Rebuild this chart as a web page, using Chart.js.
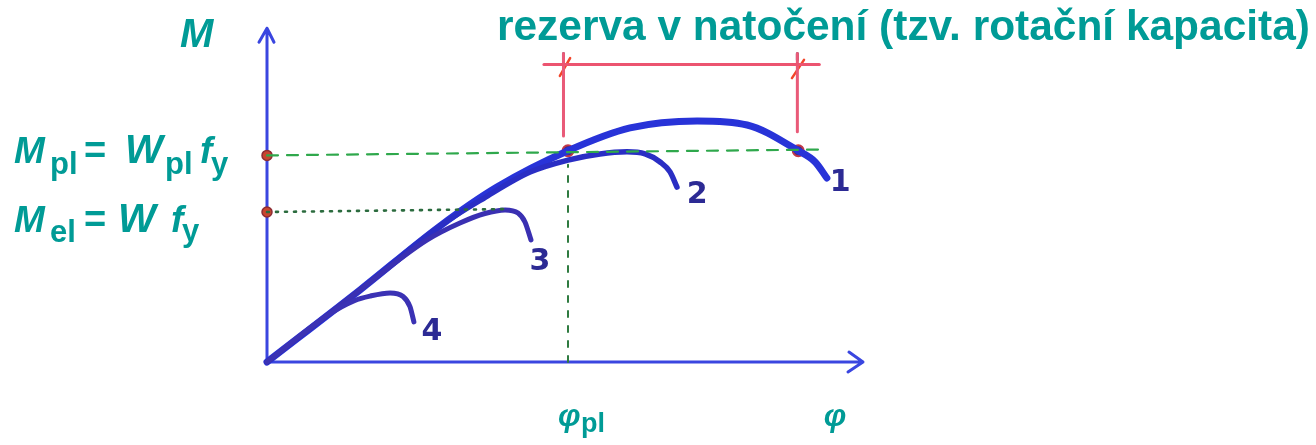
<!DOCTYPE html>
<html>
<head>
<meta charset="utf-8">
<title>M–φ</title>
<script src="https://cdn.jsdelivr.net/npm/chart.js@4.4.1/dist/chart.umd.min.js"></script>
<style>
  html, body { margin: 0; padding: 0; background: #ffffff; }
  #wrap { width: 1316px; height: 445px; position: relative; }
</style>
</head>
<body>
<div id="wrap"><canvas id="chart" width="1316" height="445"></canvas></div>
<script>
// Reference levels (dimensionless: M / Mpl, φ / φpl)
const M_PL = 1.0;
const M_EL = 0.71;
const PHI_PL = 1.0;

// Moment–rotation curves of cross-section classes 1–4
const curve1Phi = [0, 0.309, 0.575, 0.764, 1.0, 1.206, 1.429, 1.595, 1.765, 1.821, 1.860];
const curve1M   = [0, 0.341, 0.644, 0.828, 1.0, 1.108, 1.141, 1.122, 1.0, 0.947, 0.871];

const curve2Phi = [0, 0.309, 0.575, 0.72, 0.874, 1.0, 1.106, 1.196, 1.256, 1.306, 1.339, 1.362];
const curve2M   = [0, 0.341, 0.644, 0.775, 0.899, 0.956, 0.985, 0.995, 0.985, 0.947, 0.90, 0.828];

const curve3Phi = [0, 0.309, 0.532, 0.641, 0.724, 0.791, 0.834, 0.857, 0.877];
const curve3M   = [0, 0.341, 0.578, 0.658, 0.703, 0.72, 0.705, 0.663, 0.578];

const curve4Phi = [0, 0.2, 0.29, 0.342, 0.409, 0.452, 0.475, 0.488];
const curve4M   = [0, 0.22, 0.29, 0.312, 0.327, 0.31, 0.262, 0.19];

// Rotation reserve (rotation capacity) of class 1
const reservePhi = [0.985, 1.762];

// Curve numbers
const curveLabels = ['1', '2', '3', '4'];
const curveLabelPhi = [1.904, 1.429, 0.907, 0.548];
const curveLabelM   = [0.847, 0.79, 0.473, 0.142];

const pts = (xs, ys) => xs.map((x, i) => ({ x, y: ys[i] }));

const TEAL = '#009b96';

function curve(xs, ys, color, width) {
  return {
    data: pts(xs, ys), showLine: true, borderColor: color, borderWidth: width,
    pointRadius: 0, cubicInterpolationMode: 'monotone', borderCapStyle: 'round',
    borderJoinStyle: 'round', fill: false, clip: false
  };
}
function segment(a, b, color, width, dash) {
  return {
    data: [a, b], showLine: true, borderColor: color, borderWidth: width,
    borderDash: dash || [], pointRadius: 0, tension: 0, borderCapStyle: 'round',
    fill: false, clip: false
  };
}

const datasets = [
  // helper lines
  segment({ x: 0, y: M_PL - 0.022 }, { x: 1.856, y: M_PL + 0.006 }, '#2fa84c', 2.2, [11, 9]),
  segment({ x: 0, y: M_EL }, { x: 0.80, y: M_EL + 0.014 }, '#2b6b3e', 2.6, [2, 7]),
  segment({ x: PHI_PL, y: 0 }, { x: PHI_PL, y: 0.934 }, '#2f7b40', 2, [6, 9]),
  // rotation capacity bracket
  segment({ x: 0.92, y: 1.408 }, { x: 1.835, y: 1.408 }, '#ec5470', 3),
  segment({ x: reservePhi[0], y: 1.46 }, { x: reservePhi[0], y: 1.07 }, '#e95a78', 3),
  segment({ x: reservePhi[1], y: 1.46 }, { x: reservePhi[1], y: 1.09 }, '#e95a78', 3),
  segment({ x: reservePhi[0], y: 1.46 }, { x: reservePhi[0], y: 1.43 }, '#6a4a6a', 3),
  segment({ x: reservePhi[1], y: 1.46 }, { x: reservePhi[1], y: 1.43 }, '#6a4a6a', 3),
  segment({ x: 0.973, y: 1.354 }, { x: 1.007, y: 1.439 }, '#f2452a', 2.5),
  segment({ x: 1.744, y: 1.344 }, { x: 1.784, y: 1.43 }, '#f2452a', 2.5),
  // curves
  curve(curve4Phi, curve4M, '#3b32b4', 5),
  curve(curve3Phi, curve3M, '#3a30b2', 5),
  curve(curve2Phi, curve2M, '#2a2ec4', 5.5),
  curve(curve1Phi, curve1M, '#2833d8', 7),
  // marked points
  {
    data: [{ x: 0, y: M_PL - 0.022 }, { x: 0, y: M_EL }], showLine: false, clip: false,
    pointRadius: 5, pointBackgroundColor: '#c8452e', pointBorderColor: '#8c2c34', pointBorderWidth: 1.5
  },
  {
    data: [{ x: PHI_PL, y: M_PL }, { x: reservePhi[1] + 0.003, y: M_PL }], showLine: false, clip: false,
    pointRadius: 5.5, pointBackgroundColor: '#4a2a78', pointBorderColor: '#c23848', pointBorderWidth: 2
  }
];

// Axes with arrowheads, drawn on the chart's own scales
const axesPlugin = {
  id: 'axes',
  beforeDatasetsDraw(chart) {
    const { ctx, scales: { x, y } } = chart;
    const x0 = x.getPixelForValue(0), y0 = y.getPixelForValue(0);
    const xEnd = x.getPixelForValue(1.98), yEnd = y.getPixelForValue(1.58);
    ctx.save();
    ctx.strokeStyle = '#3a46e0';
    ctx.lineWidth = 3;
    ctx.lineCap = 'round';
    ctx.lineJoin = 'round';
    ctx.beginPath();
    ctx.moveTo(x0, y0); ctx.lineTo(xEnd, y0);
    ctx.moveTo(xEnd - 14, y0 - 10); ctx.lineTo(xEnd, y0); ctx.lineTo(xEnd - 15, y0 + 10);
    ctx.moveTo(x0, y0); ctx.lineTo(x0, yEnd);
    ctx.moveTo(x0 - 8, yEnd + 14); ctx.lineTo(x0, yEnd); ctx.lineTo(x0 + 7, yEnd + 14);
    ctx.stroke();
    ctx.restore();
  }
};

// Texts: title, axis symbols, level formulas, curve numbers
const textPlugin = {
  id: 'texts',
  afterDraw(chart) {
    const { ctx, scales: { x, y } } = chart;
    ctx.save();
    ctx.textBaseline = 'alphabetic';
    ctx.textAlign = 'left';
    const F = '"Liberation Sans", Arial, sans-serif';
    const put = (t, px, py, font, color) => { ctx.font = font; ctx.fillStyle = color || TEAL; ctx.fillText(t, px, py); };

    // title
    const title = 'rezerva v natočení (tzv. rotační kapacita)';
    ctx.font = 'bold 42px ' + F;
    const w = ctx.measureText(title).width;
    const size = 42 * 813 / w;
    put(title, 497, 40, 'bold ' + size.toFixed(2) + 'px ' + F);

    // M axis symbol
    put('M', 180, 47, 'italic bold 40px ' + F);

    const big = 'italic bold 37px ' + F, wide = 'italic bold 40px ' + F;
    const eq = 'bold 38px ' + F, sub = 'bold 31px ' + F;

    // Mpl = Wpl fy
    put('M', 14, 163, big);
    put('pl', 50, 174, sub);
    put('=', 84, 163, eq);
    put('W', 125, 163, wide);
    put('pl', 165, 174, sub);
    put('f', 200, 163, big);
    put('y', 211, 174, sub);

    // Mel = W fy
    put('M', 14, 232, big);
    put('el', 50, 242, sub);
    put('=', 84, 232, eq);
    put('W', 118, 232, wide);
    put('f', 171, 232, big);
    put('y', 182, 241, sub);

    // rotation symbols below the φ axis
    const xPl = x.getPixelForValue(PHI_PL);
    put('φ', xPl - 10, 426, 'italic bold 32px ' + F);
    put('pl', xPl + 13, 432, 'bold 27px ' + F);
    put('φ', x.getPixelForValue(1.85), 426, 'italic bold 32px ' + F);

    // curve numbers
    ctx.textAlign = 'center';
    ctx.textBaseline = 'middle';
    curveLabels.forEach((t, i) => {
      put(t, x.getPixelForValue(curveLabelPhi[i]), y.getPixelForValue(curveLabelM[i]),
          'bold 30px "DejaVu Sans", sans-serif', '#2c2a94');
    });
    ctx.restore();
  }
};

new Chart(document.getElementById('chart'), {
  type: 'scatter',
  data: { datasets },
  options: {
    responsive: false,
    animation: false,
    devicePixelRatio: 1,
    layout: { padding: { left: 267, right: 447, top: 24, bottom: 83 } },
    plugins: { legend: { display: false }, tooltip: { enabled: false }, title: { display: false } },
    scales: {
      x: { type: 'linear', min: 0, max: 2.0, display: false },
      y: { type: 'linear', min: 0, max: 1.6, display: false }
    }
  },
  plugins: [axesPlugin, textPlugin]
});
</script>
</body>
</html>
